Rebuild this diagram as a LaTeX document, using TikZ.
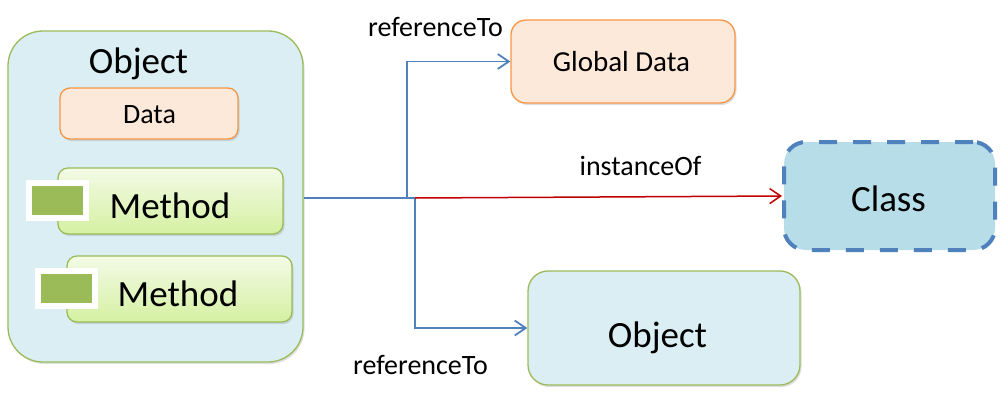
\documentclass[tikz,border=0pt]{standalone}
\usepackage{fontspec}
\setmainfont{Carlito}
\usetikzlibrary{arrows.meta,shadows}

\definecolor{objfill}{HTML}{DAEEF3}
\definecolor{objline}{HTML}{9BBB59}
\definecolor{datafill}{HTML}{FDE9D9}
\definecolor{dataline}{HTML}{F79646}
\definecolor{methtop}{HTML}{F3FBE6}
\definecolor{methbot}{HTML}{D5F0A2}
\definecolor{classfill}{HTML}{B7DDE8}
\definecolor{linkblue}{HTML}{4F81BD}
\definecolor{linkred}{HTML}{C00000}
\newcommand{\fsz}[1]{\fontsize{#1}{#1}\selectfont}

\tikzset{
  box/.style={draw, rounded corners=#1, inner sep=0pt, line width=1.3pt,
    drop shadow={shadow xshift=1.5pt, shadow yshift=-2pt, opacity=0.25}},
  objbox/.style={box=#1, fill=objfill, draw=objline},
  databox/.style={box=#1, fill=datafill, draw=dataline},
  methodbox/.style={box=10pt, draw=objline, top color=methtop, bottom color=methbot},
  iconbox/.style={draw=white, fill=objline, line width=6pt, inner sep=0pt,
    minimum width=57pt, minimum height=35pt,
    drop shadow={shadow xshift=1pt, shadow yshift=-1.5pt, opacity=0.25}},
  classbox/.style={rounded corners=22pt, fill=classfill, draw=linkblue, line width=4pt,
    dash pattern=on 18pt off 16pt, inner sep=0pt},
  txt/.style={anchor=base, inner sep=0pt},
  reflink/.style={draw=linkblue, line width=1.8pt, ->},
  instlink/.style={draw=linkred, line width=1.5pt, ->},
  >={Straight Barb[length=11pt,width=15pt]}
}

\begin{document}
\begin{tikzpicture}[x=1pt, y=-1pt]
    \useasboundingbox (0,0) rectangle (1005,400);

    % the object on the left, with its data and methods
    \node[objbox=35pt, minimum width=295pt, minimum height=331pt] (obj) at (155.5,196.5) {};
    \node[txt] (objtxt) at (138.5,73) {\fsz{37}Object};
    \node[databox=10pt, minimum width=178pt, minimum height=51pt] (data) at (149,113.5) {};
    \node[txt] (datatxt) at (149.5,123) {\fsz{28}Data};

    \node[methodbox, minimum width=225pt, minimum height=66pt] (meth1) at (170.5,201) {};
    \node[txt] (meth1txt) at (170,218) {\fsz{37}Method};
    \node[iconbox] (icon1) at (57.5,200.5) {};
    \node[methodbox, minimum width=225pt, minimum height=66pt] (meth2) at (179.5,289) {};
    \node[txt] (meth2txt) at (178,306) {\fsz{37}Method};
    \node[iconbox] (icon2) at (66,288.5) {};

    % targets
    \node[databox=15pt, minimum width=224pt, minimum height=83pt] (gdata) at (623,61.5) {};
    \node[txt] (gdatatxt) at (621.5,71.5) {\fsz{29}Global Data};
    \node[objbox=20pt, minimum width=272pt, minimum height=114pt] (obj2) at (664,328) {};
    \node[txt] (obj2txt) at (657.5,347) {\fsz{37}Object};
    \node[classbox, minimum width=211pt, minimum height=108pt] (class) at (889.5,196) {};
    \node[txt] (classtxt) at (888.5,211) {\fsz{37}Class};

    % links
    \coordinate (fork) at (407,198);
    \coordinate (fork2) at (415,198);
    \draw[reflink] (fork -| obj.east) -- (fork) |- (gdata.west);
    \draw[reflink] (fork) -- (fork2) |- (obj2.west);
    \draw[instlink] (fork2) -- (class.west);

    \node[txt] (ref1) at (435.5,36) {\fsz{28}referenceTo};
    \node[txt] (inst) at (640.5,175) {\fsz{28}instanceOf};
    \node[txt] (ref2) at (420.5,374) {\fsz{28}referenceTo};
\end{tikzpicture}
\end{document}
